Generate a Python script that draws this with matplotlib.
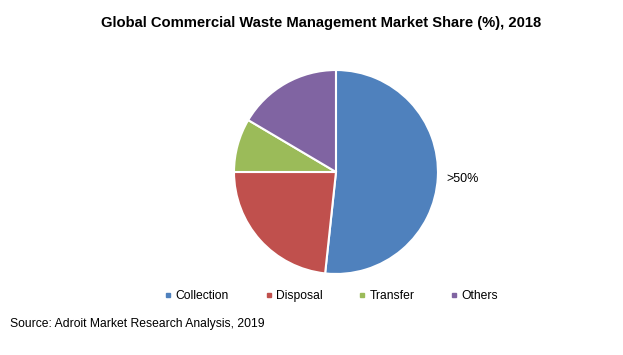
import matplotlib.pyplot as plt
from matplotlib.lines import Line2D

plt.rcParams['font.family'] = ['Liberation Sans', 'DejaVu Sans']

segments = ['Collection', 'Disposal', 'Transfer', 'Others']
shares = [51.7, 23.3, 8.5, 16.5]
colors = ['#4F81BD', '#C0504D', '#9BBB59', '#8064A2']

fig = plt.figure(figsize=(6.23, 3.55), dpi=100)
ax = fig.add_axes([0.3756, 0.2282, 0.3274, 0.5746])
ax.pie(shares, colors=colors, startangle=90, counterclock=False,
       wedgeprops=dict(edgecolor='white', linewidth=1.5))
ax.set_xlim(-1, 1)
ax.set_ylim(-1, 1)
ax.set_aspect('auto')
ax.axis('off')

# label for the collection slice
ax.text(1.08, -0.07, '>50%', fontsize=9, ha='left', va='center')

fig.text(0.515, 0.935, 'Global Commercial Waste Management Market Share (%), 2018',
         ha='center', va='center', fontsize=10.6, fontweight='bold')

handles = [Line2D([], [], marker='s', linestyle='', color=c, markersize=3.2)
           for c in colors]
fig.legend(handles, segments, loc='center', bbox_to_anchor=(0.531, 0.166),
           ncol=4, frameon=False, fontsize=8.7, handletextpad=0.2,
           columnspacing=2.9, handlelength=0.8)

fig.text(0.016, 0.087, 'Source: Adroit Market Research Analysis, 2019',
         ha='left', va='center', fontsize=8.7)

fig.savefig('out.png', dpi=100)
